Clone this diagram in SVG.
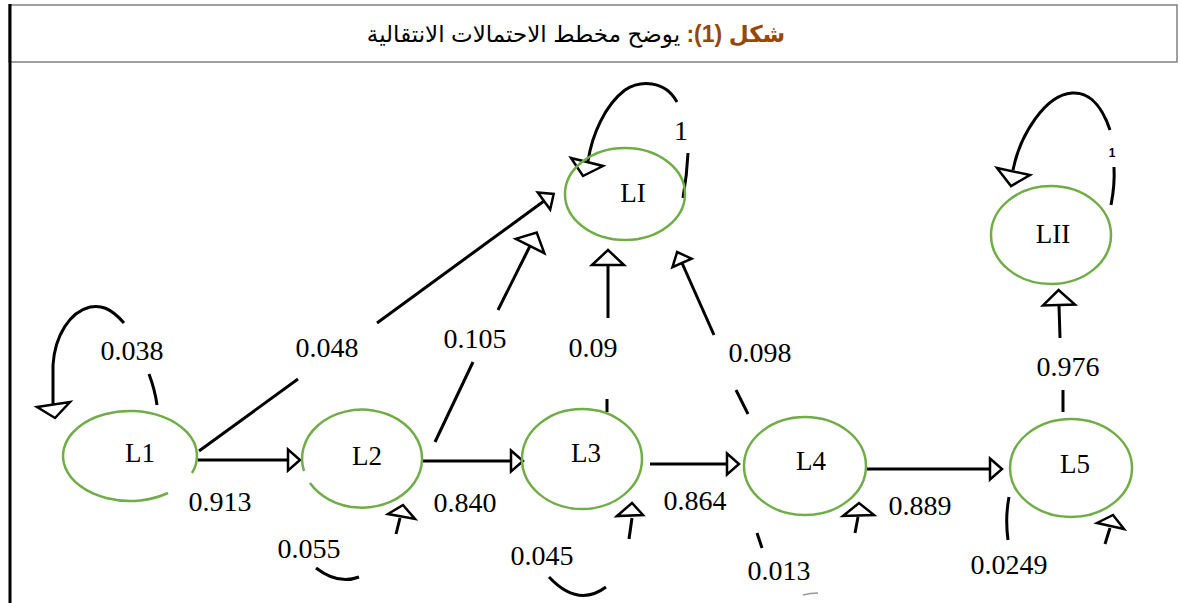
<svg xmlns="http://www.w3.org/2000/svg" width="1180" height="603" viewBox="0 0 1180 603">
<style>
.node{fill:none;stroke:#70AD47;stroke-width:2.5}
.lbl{font-family:"Liberation Serif","Times New Roman",serif;font-size:27px;fill:#000;text-anchor:middle}
.num{font-family:"Liberation Serif","Times New Roman",serif;font-size:28px;fill:#000;text-anchor:middle}
.ln{fill:none;stroke:#000;stroke-width:3}
.hd{fill:#fff;stroke:#000;stroke-width:2.5;stroke-linejoin:miter}
</style>
<defs>
<marker id="ah" markerUnits="userSpaceOnUse" orient="auto" refX="0" refY="0" markerWidth="20" markerHeight="30" viewBox="-3 -15 20 30" overflow="visible"><path d="M0,-10.5 L12,0 L0,10.5 Z" fill="#fff" stroke="#000" stroke-width="2.5"/></marker>
<marker id="av" markerUnits="userSpaceOnUse" orient="auto" refX="0" refY="0" markerWidth="22" markerHeight="40" viewBox="-3 -20 22 40" overflow="visible"><path d="M0,-16 L15,0 L0,16 Z" fill="#fff" stroke="#000" stroke-width="2.5"/></marker>
</defs>
<rect width="1180" height="603" fill="#fff"/>
<g id="header">
<rect x="9" y="5" width="1168" height="57" fill="none" stroke="#808080" stroke-width="1.5"/>
<line x1="10" y1="4" x2="10" y2="603" stroke="#000" stroke-width="3"/>
<text x="576" y="42" direction="rtl" text-anchor="middle" font-family="'Liberation Sans','DejaVu Sans',sans-serif" font-size="23" fill="#000"><tspan fill="#984806" font-weight="bold">شكل (1):</tspan> يوضح مخطط الاحتمالات الانتقالية</text>
</g>
<g id="connectors">
<path class="ln" d="M198,460 L288,460" marker-end="url(#ah)"/>
<path class="ln" d="M423,461 L511,461" marker-end="url(#ah)"/>
<path class="ln" d="M650,464 L727,464" marker-end="url(#ah)"/>
<path class="ln" d="M866,469 L990,469" marker-end="url(#ah)"/>
<path class="ln" d="M199,451 L298,379"/>
<path class="ln" d="M377,323 L544,201" marker-end="url(#ah)"/>
<path class="ln" d="M435,442 L473,362"/>
<path class="ln" d="M498,310 L530,246" marker-end="url(#av)"/>
<path class="ln" d="M607,399 L607,412"/>
<path class="ln" d="M608,318 L608,265" marker-end="url(#av)"/>
<path class="ln" d="M736,390 L748,414"/>
<path class="ln" d="M714,335 L682,263" marker-end="url(#ah)"/>
<path class="ln" d="M1063,390 L1063,412"/>
<path class="ln" d="M1060,338 L1059,305" marker-end="url(#av)"/>
<path class="ln" d="M157,405 Q155,390 149,374"/>
<path class="ln" d="M124,323 C110,307 100,305 90,307 C70,312 55,335 53,365 L53,404"/>
<polygon class="hd" points="37,407 70,402 55,418"/>
<path class="ln" d="M396,534 L400,518"/>
<polygon class="hd" points="388,514 403,505 415,519"/>
<path class="ln" d="M316,568 Q338,585 359,577"/>
<path class="ln" d="M629,539 L632,518"/>
<polygon class="hd" points="617,516 632,503 643,515"/>
<path class="ln" d="M549,577 Q578,608 606,587"/>
<path class="ln" d="M757,533 L762,548"/>
<path class="ln" d="M855,533 L858,517"/>
<polygon class="hd" points="843,516 859,503 874,515"/>
<path d="M803,595 Q810,593 818,593" fill="none" stroke="#999" stroke-width="1.5"/>
<path class="ln" d="M1009,497 Q1005,518 1008,540"/>
<path class="ln" d="M1105,544 L1110,528"/>
<polygon class="hd" points="1097,523 1113,515 1124,529"/>
<path class="ln" d="M683,198 Q687,175 688,153"/>
<path class="ln" d="M677,102 C665,80 640,80 625,90 C605,105 592,135 588,161"/>
<polygon class="hd" points="571,158 603,166 583,176"/>
<path class="ln" d="M1111,205 Q1115,185 1114,167"/>
<path class="ln" d="M1110,130 C1100,100 1085,92 1072,93 C1045,95 1020,135 1013,170"/>
<polygon class="hd" points="997,168 1030,175 1011,186"/>
</g>
<g id="edge-labels">
<text class="num" x="132" y="360">0.038</text>
<text class="num" x="327" y="357">0.048</text>
<text class="num" x="475" y="348">0.105</text>
<text class="num" x="593" y="357">0.09</text>
<text class="num" x="760" y="362">0.098</text>
<text class="num" x="1068" y="376">0.976</text>
<text class="num" x="220" y="511">0.913</text>
<text class="num" x="465" y="512">0.840</text>
<text class="num" x="695" y="510">0.864</text>
<text class="num" x="920" y="515">0.889</text>
<text class="num" x="309" y="558">0.055</text>
<text class="num" x="542" y="565">0.045</text>
<text class="num" x="779" y="580">0.013</text>
<text class="num" x="1009" y="574">0.0249</text>
<text class="num" x="681" y="140">1</text>
<text x="1112" y="157" font-family="'Liberation Sans',sans-serif" font-size="12" font-weight="bold" text-anchor="middle">1</text>
</g>
<g id="L1"><path class="node" d="M192,473 A67,45 0 1 0 168,493"/><text class="lbl" x="140" y="462">L1</text></g>
<g id="L2"><path class="node" d="M304,471 A60,49 0 1 1 310,483"/><text class="lbl" x="367" y="465">L2</text></g>
<g id="L3"><ellipse class="node" cx="582" cy="459" rx="60" ry="50"/><text class="lbl" x="586" y="462">L3</text></g>
<g id="L4"><ellipse class="node" cx="805" cy="466" rx="61" ry="49"/><text class="lbl" x="811" y="470">L4</text></g>
<g id="L5"><ellipse class="node" cx="1071" cy="468" rx="61" ry="49"/><text class="lbl" x="1075" y="473">L5</text></g>
<g id="LI"><ellipse class="node" cx="625" cy="194" rx="60" ry="46"/><text class="lbl" x="633" y="202">LI</text></g>
<g id="LII"><ellipse class="node" cx="1051" cy="235" rx="60" ry="49"/><text class="lbl" x="1053" y="243">LII</text></g>
</svg>
